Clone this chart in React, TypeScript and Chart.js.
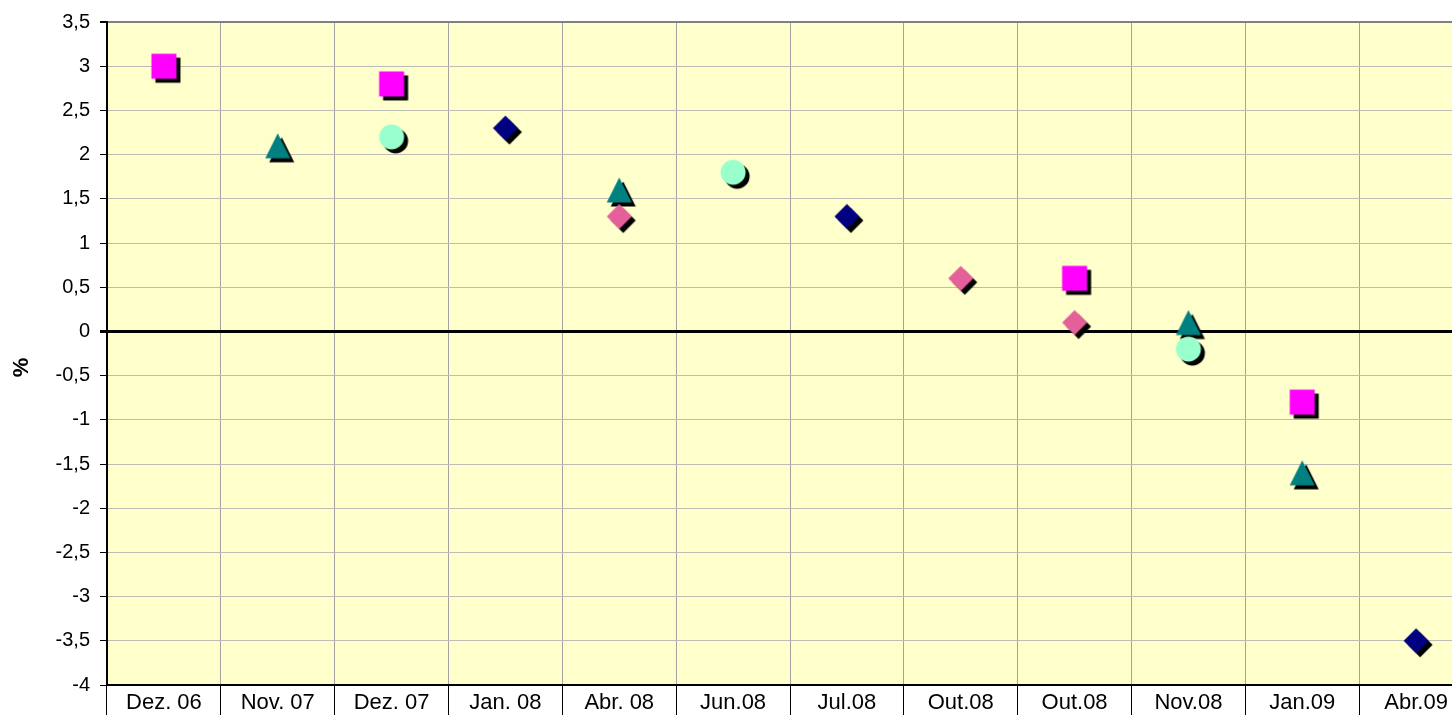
import React, { useEffect, useRef } from 'react';
import { Chart, registerables } from 'chart.js';

Chart.register(...registerables);

const categories = ['Dez. 06', 'Nov. 07', 'Dez. 07', 'Jan. 08', 'Abr. 08', 'Jun.08', 'Jul.08', 'Out.08', 'Out.08', 'Nov.08', 'Jan.09', 'Abr.09'];

const magentaSquares = [3.0, null, 2.8, null, null, null, null, null, 0.6, null, -0.8, null];
const tealTriangles = [null, 2.1, null, null, 1.6, null, null, null, null, 0.1, -1.6, null];
const mintCircles = [null, null, 2.2, null, null, 1.8, null, null, null, -0.2, null, null];
const navyDiamonds = [null, null, null, 2.3, null, null, 1.3, null, null, null, null, -3.5];
const pinkDiamonds = [null, null, null, null, 1.3, null, null, 0.6, 0.1, null, null, null];

const yMin = -4;
const yMax = 3.5;
const yStep = 0.5;

const FONT = 'Arial, "Liberation Sans", sans-serif';

type Kind = 'square' | 'triangle' | 'circle' | 'diamond';

function makeMarker(kind: Kind, color: string): HTMLCanvasElement {
  const size = 44;
  const c = size / 2;
  const off = 4;
  const cv = document.createElement('canvas');
  cv.width = size;
  cv.height = size;
  const ctx = cv.getContext('2d')!;
  const path = (dx: number, dy: number) => {
    const x = c + dx;
    const y = c + dy;
    ctx.beginPath();
    if (kind === 'square') {
      ctx.rect(x - 12.5, y - 12.5, 25, 25);
    } else if (kind === 'triangle') {
      ctx.moveTo(x, y - 12.5);
      ctx.lineTo(x + 12.5, y + 12.5);
      ctx.lineTo(x - 12.5, y + 12.5);
      ctx.closePath();
    } else if (kind === 'circle') {
      ctx.arc(x, y, 12.5, 0, Math.PI * 2);
    } else {
      ctx.moveTo(x, y - 12.5);
      ctx.lineTo(x + 12.5, y);
      ctx.lineTo(x, y + 12.5);
      ctx.lineTo(x - 12.5, y);
      ctx.closePath();
    }
  };
  path(off, off);
  ctx.fillStyle = '#000000';
  ctx.fill();
  path(0, 0);
  ctx.fillStyle = color;
  ctx.fill();
  return cv;
}

const plotBackground = {
  id: 'plotBackground',
  beforeDraw(chart: any) {
    const { ctx, chartArea } = chart;
    ctx.save();
    ctx.fillStyle = '#FFFFCC';
    ctx.fillRect(chartArea.left, chartArea.top, chartArea.right - chartArea.left, chartArea.bottom - chartArea.top);
    ctx.restore();
  },
};

const yTitle = {
  id: 'yTitle',
  afterDraw(chart: any) {
    const { ctx, chartArea } = chart;
    ctx.save();
    ctx.translate(22, (chartArea.top + chartArea.bottom) / 2 + 14);
    ctx.rotate(-Math.PI / 2);
    ctx.fillStyle = '#000';
    ctx.font = `bold 22px ${FONT}`;
    ctx.textAlign = 'center';
    ctx.textBaseline = 'middle';
    ctx.fillText('%', 0, 0);
    ctx.restore();
  },
};

export default function App() {
  const ref = useRef<HTMLCanvasElement>(null);

  useEffect(() => {
    const canvas = ref.current!;
    const mk = (label: string, data: (number | null)[], kind: Kind, color: string) => ({
      label,
      data,
      showLine: false,
      pointStyle: makeMarker(kind, color),
      pointRadius: 12,
      pointHoverRadius: 12,
      backgroundColor: color,
      borderColor: color,
    });
    const chart = new Chart(canvas, {
      type: 'line',
      data: {
        labels: categories,
        datasets: [
          mk('pink', pinkDiamonds, 'diamond', '#E5609A'),
          mk('mint', mintCircles, 'circle', '#99FFCC'),
          mk('magenta', magentaSquares, 'square', '#FF00FF'),
          mk('navy', navyDiamonds, 'diamond', '#000080'),
          mk('teal', tealTriangles, 'triangle', '#008080'),
        ],
      },
      options: {
        responsive: false,
        animation: false,
        events: [],
        layout: { padding: { top: 22, right: 2, left: 0, bottom: 0 } },
        plugins: {
          legend: { display: false },
          tooltip: { enabled: false },
        },
        scales: {
          x: {
            type: 'category',
            offset: true,
            grid: {
              offset: true,
              color: '#a4a4a4',
              lineWidth: 1,
              tickColor: '#000',
              tickLength: 30,
              tickWidth: 1,
            },
            border: { color: '#000', width: 2 },
            ticks: {
              color: '#000',
              font: { family: FONT, size: 22 },
              padding: -25,
              autoSkip: false,
              maxRotation: 0,
            },
            afterFit: (s: any) => {
              s.height = 30;
            },
          },
          y: {
            min: yMin,
            max: yMax,
            ticks: {
              stepSize: yStep,
              color: '#000',
              font: { family: FONT, size: 20 },
              padding: 10,
              callback: (v: any) => String(v).replace('.', ','),
            },
            grid: {
              color: (ctx: any) => {
                const v = ctx.tick ? ctx.tick.value : null;
                if (v === 0) return '#000';
                if (v === yMax) return '#808080';
                return '#bcbcb4';
              },
              lineWidth: (ctx: any) => {
                const v = ctx.tick ? ctx.tick.value : null;
                if (v === 0) return 3;
                if (v === yMax) return 2;
                return 1;
              },
              tickColor: '#000',
              tickLength: 7,
            },
            border: { color: '#000', width: 2 },
            afterFit: (s: any) => {
              s.width = 107;
            },
          },
        },
      } as any,
      plugins: [plotBackground, yTitle],
    });
    return () => chart.destroy();
  }, []);

  return (
    <div style={{ position: 'fixed', left: 0, top: 0, width: 1452, height: 715, overflow: 'hidden', background: '#fff' }}>
      <canvas ref={ref} width={1486} height={715} style={{ display: 'block', width: 1486, height: 715 }} />
    </div>
  );
}
